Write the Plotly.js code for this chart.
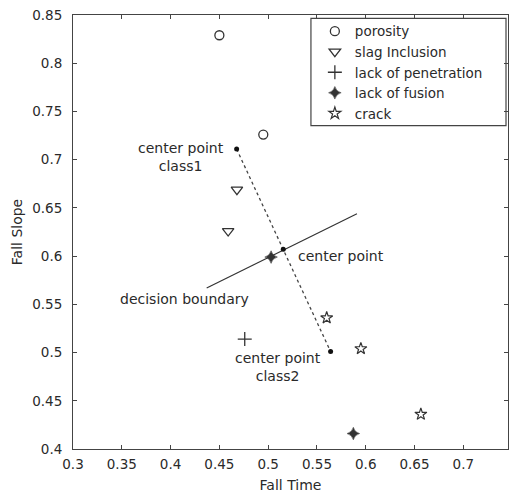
<!DOCTYPE html>
<html>
<head>
<meta charset="utf-8">
<script src="https://cdn.plot.ly/plotly-3.0.1.min.js"></script>
<style>html,body{margin:0;padding:0;background:#fff;}#chart{width:510px;height:498px;}</style>
</head>
<body>
<div id="chart"></div>
<script>
// ---- data ----
const porosityX = [0.450, 0.495];
const porosityY = [0.829, 0.726];
const slagX = [0.468, 0.459];
const slagY = [0.669, 0.626];
const penetrationX = [0.476];
const penetrationY = [0.514];
const fusionX = [0.5873, 0.503];
const fusionY = [0.416, 0.599];
const crackX = [0.560, 0.595, 0.6565];
const crackY = [0.536, 0.504, 0.436];
const centerLineX = [0.4677, 0.5155, 0.564];   // class1, center, class2
const centerLineY = [0.711, 0.607, 0.501];
const boundaryX = [0.437, 0.591];
const boundaryY = [0.567, 0.644];
const xTicks = [0.3, 0.35, 0.4, 0.45, 0.5, 0.55, 0.6, 0.65, 0.7];
const xTickText = ["0.3", "0.35", "0.4", "0.45", "0.5", "0.55", "0.6", "0.65", "0.7"];
const yTicks = [0.4, 0.45, 0.5, 0.55, 0.6, 0.65, 0.7, 0.75, 0.8, 0.85];
const yTickText = ["0.4", "0.45", "0.5", "0.55", "0.6", "0.65", "0.7", "0.75", "0.8", "0.85"];

const ink = '#333333';
const FONT = 'DejaVu Sans';

const traces = [
  {x: boundaryX, y: boundaryY, mode: 'lines', showlegend: false,
   line: {color: ink, width: 1.2}, hoverinfo: 'skip'},
  {x: centerLineX, y: centerLineY, mode: 'lines+markers', showlegend: false,
   line: {color: '#444', width: 1.3, dash: 'dot'},
   marker: {symbol: 'circle', size: 5, color: '#111'}},
  {x: porosityX, y: porosityY, mode: 'markers', name: 'porosity',
   marker: {symbol: 'circle-open', size: 9, color: ink, line: {width: 1.3, color: ink}}},
  {x: slagX, y: slagY, mode: 'markers', name: 'slag Inclusion',
   marker: {symbol: 'triangle-down-open', size: 10, color: ink, line: {width: 1.3, color: ink}}},
  {x: penetrationX, y: penetrationY, mode: 'markers', name: 'lack of penetration',
   marker: {symbol: 'cross-thin-open', size: 10, color: ink, line: {width: 1.3, color: ink}}},
  {x: fusionX, y: fusionY, mode: 'markers', name: 'lack of fusion',
   marker: {symbol: 'star-diamond', size: 9, color: ink, line: {width: 0.5, color: ink}}},
  {x: crackX, y: crackY, mode: 'markers', name: 'crack',
   marker: {symbol: 'star-open', size: 9, color: ink, line: {width: 1.2, color: ink}}}
];

const axisCommon = {
  showgrid: false, zeroline: false, showline: true, mirror: 'ticks',
  linecolor: '#444', linewidth: 1, ticks: 'inside', ticklen: 4, tickwidth: 1,
  tickcolor: '#444', tickfont: {family: FONT, size: 13.5, color: '#2a2a2a'}
};

const layout = {
  width: 510, height: 498,
  margin: {l: 73, r: 2, t: 15, b: 49},
  paper_bgcolor: '#fff', plot_bgcolor: '#fff',
  font: {family: FONT, color: '#2a2a2a', size: 14},
  xaxis: Object.assign({}, axisCommon, {
    range: [0.3, 0.7458], tickmode: 'array', tickvals: xTicks, ticktext: xTickText,
    ticklabelstandoff: 3,
    title: {text: 'Fall Time', font: {family: FONT, size: 14, color: '#2a2a2a'}, standoff: 8}
  }),
  yaxis: Object.assign({}, axisCommon, {
    range: [0.4, 0.85], tickmode: 'array', tickvals: yTicks, ticktext: yTickText,
    ticklabelstandoff: 7,
    title: {text: 'Fall Slope', font: {family: FONT, size: 14, color: '#2a2a2a'}, standoff: 6}
  }),
  showlegend: true,
  legend: {
    x: 0.556, y: 0.998, xanchor: 'left', yanchor: 'top',
    bgcolor: 'rgba(0,0,0,0)', borderwidth: 0,
    font: {family: FONT, size: 13.5, color: '#2a2a2a'},
    itemclick: false
  },
  shapes: [
    {type: 'rect', xref: 'paper', yref: 'paper', x0: 0.547, x1: 0.9954, y0: 0.745, y1: 0.9924,
     line: {color: '#444', width: 1.2}, fillcolor: '#fff', layer: 'below'}
  ],
  annotations: [
    {x: 0.411, y: 0.703, xref: 'x', yref: 'y', text: 'center point<br>class1', showarrow: false,
     align: 'center', font: {family: FONT, size: 14, color: '#2a2a2a'}},
    {x: 0.529, y: 0.6006, xref: 'x', yref: 'y', text: 'center point', showarrow: false,
     xanchor: 'left', font: {family: FONT, size: 14, color: '#2a2a2a'}},
    {x: 0.4146, y: 0.5557, xref: 'x', yref: 'y', text: 'decision boundary', showarrow: false,
     font: {family: FONT, size: 14, color: '#2a2a2a'}},
    {x: 0.5098, y: 0.485, xref: 'x', yref: 'y', text: 'center point<br>class2', showarrow: false,
     align: 'center', font: {family: FONT, size: 14, color: '#2a2a2a'}}
  ]
};

Plotly.newPlot('chart', traces, layout, {displayModeBar: false, staticPlot: true});
</script>
</body>
</html>
